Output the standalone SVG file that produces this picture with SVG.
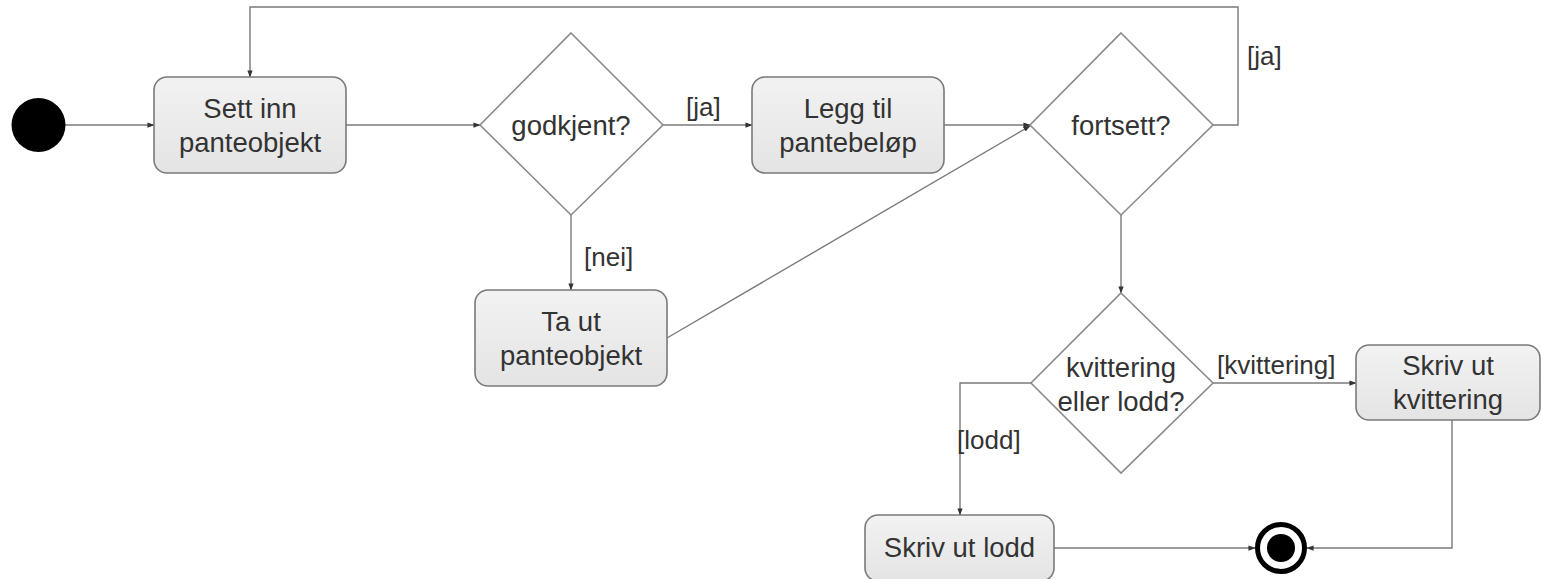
<svg xmlns="http://www.w3.org/2000/svg" width="1541" height="579" viewBox="0 0 1541 579">
  <defs>
    <linearGradient id="boxFill" x1="0" y1="0" x2="0" y2="1">
      <stop offset="0" stop-color="#f2f2f2"/>
      <stop offset="1" stop-color="#e4e4e4"/>
    </linearGradient>
    <marker id="arrow" viewBox="0 0 8 8" refX="7.5" refY="4" markerWidth="7" markerHeight="7" markerUnits="userSpaceOnUse" orient="auto">
      <path d="M0,1 L8,4 L0,7 z" fill="#333"/>
    </marker>
    <style>
      .box { fill: url(#boxFill); stroke: #7a7a7a; stroke-width: 1.6; }
      .dec { fill: #ffffff; stroke: #8a8a8a; stroke-width: 1.6; }
      .edge { fill: none; stroke: #7a7a7a; stroke-width: 1.4; marker-end: url(#arrow); }
      .lbl { font-family: "Liberation Sans", Arial, sans-serif; font-size: 27.5px; fill: #333; text-anchor: middle; }
      .guard { font-family: "Liberation Sans", Arial, sans-serif; font-size: 26px; fill: #333; }
    </style>
  </defs>

  <rect width="1541" height="579" fill="#ffffff"/>

  <!-- connectors -->
  <g id="edges">
    <line class="edge" x1="65" y1="125" x2="154" y2="125"/>
    <line class="edge" x1="346" y1="125" x2="480" y2="125"/>
    <line class="edge" x1="663" y1="125" x2="752" y2="125"/>
    <line class="edge" x1="571" y1="215" x2="571" y2="290"/>
    <line class="edge" x1="944" y1="125" x2="1030" y2="125"/>
    <line class="edge" x1="667" y1="338" x2="1030" y2="126"/>
    <polyline class="edge" points="1213,125 1238,125 1238,7 250,7 250,77"/>
    <line class="edge" x1="1121" y1="215" x2="1121" y2="293"/>
    <line class="edge" x1="1213" y1="383" x2="1356" y2="383"/>
    <polyline class="edge" points="1031,383 960,383 960,515"/>
    <line class="edge" x1="1054" y1="548" x2="1255" y2="548"/>
    <polyline class="edge" points="1452,420 1452,548 1307,548"/>

    <text class="guard" x="686" y="116">[ja]</text>
    <text class="guard" x="1247" y="65">[ja]</text>
    <text class="guard" x="584" y="266">[nei]</text>
    <text class="guard" x="1217" y="374">[kvittering]</text>
    <text class="guard" x="957" y="449">[lodd]</text>
  </g>

  <!-- start -->
  <g id="start">
    <circle cx="38.5" cy="125" r="27" fill="#000"/>
  </g>

  <g id="sett-inn">
    <rect class="box" x="154" y="77" width="192" height="96" rx="13"/>
    <text class="lbl" x="250" y="118">Sett inn</text>
    <text class="lbl" x="250" y="152">panteobjekt</text>
  </g>

  <g id="godkjent">
    <polygon class="dec" points="571,33 663,125 571,215 480,125"/>
    <text class="lbl" x="571" y="135">godkjent?</text>
  </g>

  <g id="legg-til">
    <rect class="box" x="752" y="77" width="192" height="96" rx="13"/>
    <text class="lbl" x="848" y="118">Legg til</text>
    <text class="lbl" x="848" y="152">pantebeløp</text>
  </g>

  <g id="ta-ut">
    <rect class="box" x="475" y="290" width="192" height="96" rx="13"/>
    <text class="lbl" x="571" y="331">Ta ut</text>
    <text class="lbl" x="571" y="365">panteobjekt</text>
  </g>

  <g id="fortsett">
    <polygon class="dec" points="1121,33 1213,125 1121,215 1030,125"/>
    <text class="lbl" x="1121" y="135">fortsett?</text>
  </g>

  <g id="kvittering-eller-lodd">
    <polygon class="dec" points="1121,293 1213,383 1121,473 1031,383"/>
    <text class="lbl" x="1121" y="377">kvittering</text>
    <text class="lbl" x="1121" y="411">eller lodd?</text>
  </g>

  <g id="skriv-kvittering">
    <rect class="box" x="1356" y="345" width="184" height="75" rx="13"/>
    <text class="lbl" x="1448" y="375">Skriv ut</text>
    <text class="lbl" x="1448" y="409">kvittering</text>
  </g>

  <g id="skriv-lodd">
    <rect class="box" x="865" y="515" width="189" height="66" rx="13"/>
    <text class="lbl" x="959.5" y="557">Skriv ut lodd</text>
  </g>

  <!-- end -->
  <g id="end">
    <circle cx="1281" cy="548" r="23.5" fill="#fff" stroke="#000" stroke-width="5"/>
    <circle cx="1281" cy="548" r="14" fill="#000"/>
  </g>
</svg>
